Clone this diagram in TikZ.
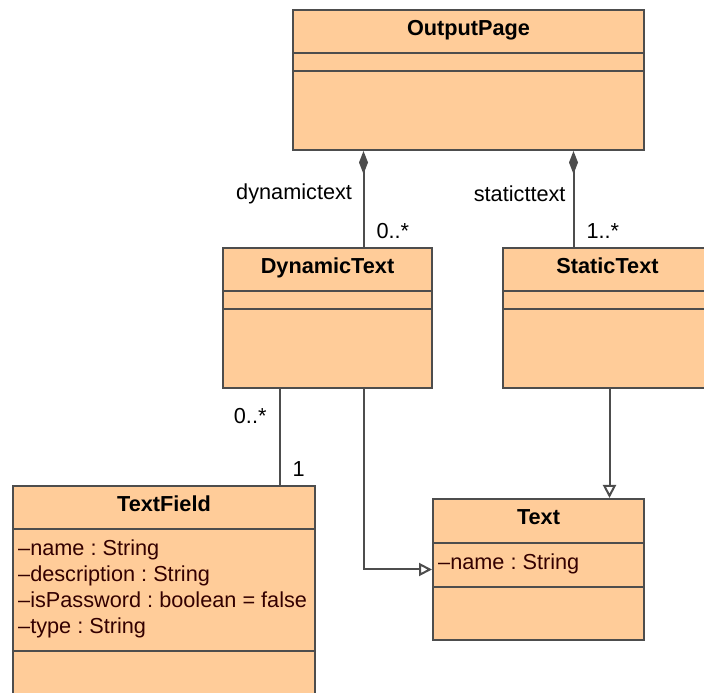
\documentclass[tikz,border=0pt]{standalone}
\usepackage{fontspec}
\setmainfont{Liberation Sans}
\usetikzlibrary{arrows.meta}
\frenchspacing

\definecolor{classfill}{HTML}{FFCC99}
\definecolor{classline}{HTML}{4D4D4D}
\definecolor{attrtext}{HTML}{330000}

\tikzset{
  umlclass/.style={draw=classline,fill=classfill,line width=2bp,inner sep=0pt},
  classsep/.style={draw=classline,line width=2bp},
  classtitle/.style={anchor=base,inner sep=0pt,font=\fontsize{21.7bp}{25.7bp}\selectfont\bfseries},
  attrs/.style={anchor=north west,inner sep=0pt,align=left,text=attrtext},
  rolelabel/.style={inner sep=0pt,text=black},
  composition/.style={draw=classline,line width=2bp,-{Diamond[length=23bp,width=9bp]}},
  generalization/.style={draw=classline,line width=2bp,-{Triangle[length=13bp,width=13bp,fill=white]}},
  association/.style={draw=classline,line width=2bp},
}

\begin{document}
\begin{tikzpicture}[>=latex,line join=miter,font=\fontsize{21.7bp}{25.7bp}\selectfont]
\useasboundingbox (0bp,0bp) rectangle (704bp,693bp);
%% classes
\node (class_outputpage) at (468.5bp,613bp) [umlclass,minimum width=351bp,minimum height=140bp] {};
  \node (class_dynamictext) at (327.5bp,375bp) [umlclass,minimum width=209bp,minimum height=140bp] {};
  \node (class_statictext) at (607.5bp,375bp) [umlclass,minimum width=209bp,minimum height=140bp] {};
  \node (class_textfield) at (164bp,77bp) [umlclass,minimum width=302bp,minimum height=260bp] {};
  \node (class_text) at (538.5bp,123.5bp) [umlclass,minimum width=211bp,minimum height=141bp] {};
%% titles
\node (title_outputpage) at ([yshift=-27bp]class_outputpage.north) [classtitle] {OutputPage};
  \node (title_dynamictext) at ([yshift=-27bp]class_dynamictext.north) [classtitle] {DynamicText};
  \node (title_statictext) at ([yshift=-27bp]class_statictext.north) [classtitle] {StaticText};
  \node (title_textfield) at ([yshift=-27bp]class_textfield.north) [classtitle] {TextField};
  \node (title_text) at ([yshift=-27bp]class_text.north) [classtitle] {Text};
%% compartments
\draw [classsep] ([yshift=-44bp]class_outputpage.north west) -- ([yshift=-44bp]class_outputpage.north east);
  \draw [classsep] ([yshift=-62bp]class_outputpage.north west) -- ([yshift=-62bp]class_outputpage.north east);
  \draw [classsep] ([yshift=-44bp]class_dynamictext.north west) -- ([yshift=-44bp]class_dynamictext.north east);
  \draw [classsep] ([yshift=-62bp]class_dynamictext.north west) -- ([yshift=-62bp]class_dynamictext.north east);
  \draw [classsep] ([yshift=-44bp]class_statictext.north west) -- ([yshift=-44bp]class_statictext.north east);
  \draw [classsep] ([yshift=-62bp]class_statictext.north west) -- ([yshift=-62bp]class_statictext.north east);
  \draw [classsep] ([yshift=-44bp]class_textfield.north west) -- ([yshift=-44bp]class_textfield.north east);
  \draw [classsep] ([yshift=-166bp]class_textfield.north west) -- ([yshift=-166bp]class_textfield.north east);
  \draw [classsep] ([yshift=-45bp]class_text.north west) -- ([yshift=-45bp]class_text.north east);
  \draw [classsep] ([yshift=-89bp]class_text.north west) -- ([yshift=-89bp]class_text.north east);
%% attributes
\node (attrs_textfield) at ([xshift=6bp,yshift=-55bp]class_textfield.north west) [attrs] {–name : String\\–description : String\\–isPassword : boolean = false\\–type : String};
  \node (attrs_text) at ([xshift=6bp,yshift=-56bp]class_text.north west) [attrs] {–name : String};
%% connectors
\coordinate (dyn_top) at ([xshift=36bp]class_dynamictext.north);
  \coordinate (static_top) at ([xshift=-34bp]class_statictext.north);
  \coordinate (dyn_bottom) at ([xshift=36bp]class_dynamictext.south);
  \coordinate (dyn_assoc) at ([xshift=-48bp]class_dynamictext.south);
  \coordinate (static_bottom) at ([xshift=2bp]class_statictext.south);
  \draw [composition] (dyn_top) -- (class_outputpage.south -| dyn_top)
    node [rolelabel,anchor=east,pos=0.557,xshift=-10.5bp] {dynamictext}
    node [rolelabel,anchor=base west,pos=0,xshift=12bp,yshift=8bp] {0..*};
  \draw [composition] (static_top) -- (class_outputpage.south -| static_top)
    node [rolelabel,anchor=east,pos=0.557,xshift=-7bp] {staticttext}
    node [rolelabel,anchor=base west,pos=0,xshift=12bp,yshift=8bp] {1..*};
  \draw [association] (dyn_assoc) -- (dyn_assoc |- class_textfield.north)
    node [rolelabel,anchor=base east,pos=0,xshift=-12bp,yshift=-34.7bp] {0..*}
    node [rolelabel,anchor=base west,pos=1,xshift=12bp,yshift=8bp] {1};
  \draw [generalization] (dyn_bottom) |- (class_text.west);
  \draw [generalization] (static_bottom) -- (static_bottom |- class_text.north);
%
\end{tikzpicture}
\end{document}
